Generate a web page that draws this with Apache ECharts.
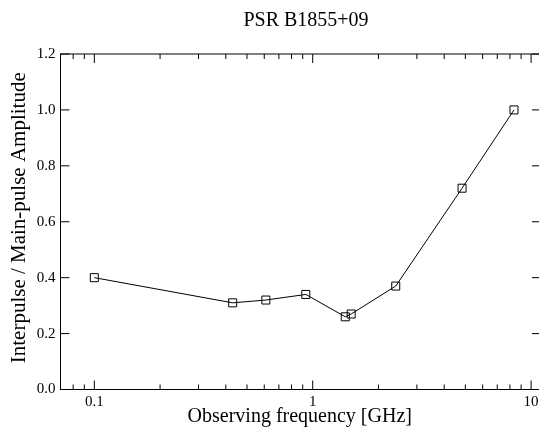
<!DOCTYPE html>
<html>
<head>
<meta charset="utf-8">
<script src="https://cdn.jsdelivr.net/npm/echarts@6/dist/echarts.min.js"></script>
<style>
  html, body { margin: 0; padding: 0; background: #fff; }
  #chart { width: 539px; height: 428px; }
</style>
</head>
<body>
<div id="chart"></div>
<script>
// observing frequency (GHz) and interpulse / main-pulse amplitude ratio
const freqs = [0.1, 0.43, 0.61, 0.93, 1.41, 1.5, 2.4, 4.83, 8.35]
const ratios = [0.40, 0.31, 0.32, 0.34, 0.26, 0.27, 0.37, 0.72, 1.00]

const xTickLabels = [0.1, 1, 10]
const xMinorTicks = [0.07, 0.08, 0.09, 0.2, 0.3, 0.4, 0.5, 0.6, 0.7, 0.8, 0.9,
  2, 3, 4, 5, 6, 7, 8, 9]
const yTicks = [0, 0.2, 0.4, 0.6, 0.8, 1.0, 1.2]

const font = 'Liberation Serif'
const yMin = 0
const yMax = 1.2

const chart = echarts.init(document.getElementById('chart'), null, { renderer: 'canvas' })

// [x, y, kind] kind: 2 = x major, 1 = x minor, 0 = y major
const tickData = xTickLabels.map(v => [v, yMin, 2])
  .concat(xMinorTicks.map(v => [v, yMin, 1]))
  .concat(yTicks.map(v => [1, v, 0]))

chart.setOption({
  animation: false,
  title: {
    text: 'PSR B1855+09',
    left: 301,
    textAlign: 'center',
    top: 6,
    textStyle: { fontFamily: font, fontSize: 20, fontWeight: 'normal', color: '#000' }
  },
  grid: { left: 60.5, right: 0, top: 54, bottom: 38.5, outerBoundsMode: 'none' },
  xAxis: {
    type: 'log',
    logBase: 10,
    min: 0.07,
    max: 10.87,
    name: 'Observing frequency [GHz]',
    nameLocation: 'middle',
    nameGap: 17,
    nameMoveOverlap: false,
    nameTextStyle: { fontFamily: font, fontSize: 20, color: '#000' },
    axisLine: { show: true, lineStyle: { color: '#000', width: 1 } },
    axisTick: { show: false },
    splitLine: { show: false },
    axisLabel: {
      fontFamily: font,
      fontSize: 15,
      color: '#000',
      margin: 5,
      showMinLabel: false,
      showMaxLabel: false,
      formatter: v => {
        const hit = xTickLabels.find(t => Math.abs(Math.log10(t) - Math.log10(v)) < 1e-6)
        return hit === undefined ? '' : String(hit)
      }
    }
  },
  yAxis: {
    type: 'value',
    min: yMin,
    max: yMax,
    interval: 0.2,
    name: 'Interpulse / Main-pulse Amplitude',
    nameLocation: 'middle',
    nameGap: 31,
    nameMoveOverlap: false,
    nameTextStyle: { fontFamily: font, fontSize: 21, color: '#000', padding: [0, 0, 0, 8] },
    axisLine: { show: true, lineStyle: { color: '#000', width: 1 } },
    axisTick: { show: false },
    splitLine: { show: false },
    axisLabel: {
      fontFamily: font,
      fontSize: 15,
      color: '#000',
      margin: 5,
      formatter: v => v.toFixed(1)
    }
  },
  series: [
    {
      type: 'line',
      data: freqs.map((f, i) => [f, ratios[i]]),
      symbol: 'rect',
      symbolSize: 8,
      showAllSymbol: true,
      lineStyle: { color: '#000', width: 1 },
      itemStyle: { color: 'rgba(0,0,0,0)', borderColor: '#000', borderWidth: 1 },
      z: 3
    },
    {
      // inward ticks on all four edges plus the top frame line
      type: 'custom',
      data: tickData,
      clip: false,
      silent: true,
      z: 5,
      renderItem (params, api) {
        const kind = api.value(2)
        const cs = params.coordSys
        const style = { stroke: '#000', lineWidth: 1 }
        const children = []
        if (kind === 0) {
          const p = api.coord([1, api.value(1)])
          children.push({ type: 'line', shape: { x1: cs.x, y1: p[1], x2: cs.x + 9, y2: p[1] }, style })
          children.push({ type: 'line', shape: { x1: cs.x + cs.width, y1: p[1], x2: cs.x + cs.width - 7, y2: p[1] }, style })
        } else {
          const len = kind === 2 ? 9 : 5
          const b = api.coord([api.value(0), yMin])
          const t = api.coord([api.value(0), yMax])
          children.push({ type: 'line', shape: { x1: b[0], y1: b[1], x2: b[0], y2: b[1] - len }, style })
          children.push({ type: 'line', shape: { x1: t[0], y1: t[1], x2: t[0], y2: t[1] + len }, style })
        }
        if (params.dataIndex === 0) {
          children.push({ type: 'line', shape: { x1: cs.x, y1: cs.y, x2: cs.x + cs.width, y2: cs.y }, style })
        }
        return { type: 'group', children }
      }
    }
  ]
})
</script>
</body>
</html>
